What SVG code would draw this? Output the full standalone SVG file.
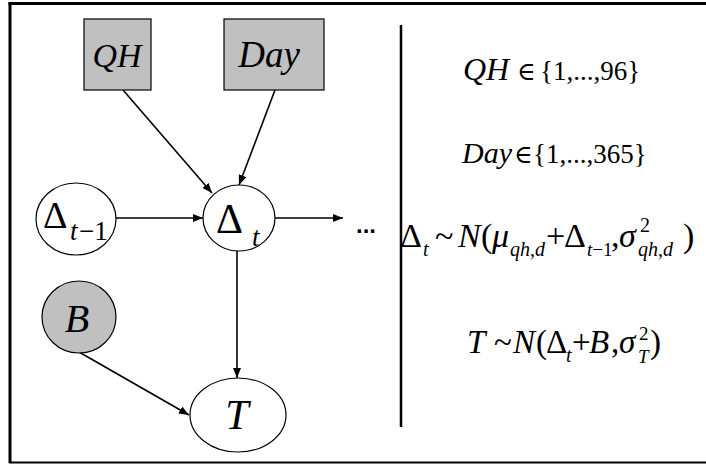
<svg xmlns="http://www.w3.org/2000/svg" width="706" height="466" viewBox="0 0 706 466">
<style>
.shape{stroke:#000;stroke-width:1.2}
.obs{fill:#c0c0c0}
.hid{fill:#fff}
.edge{stroke:#000;stroke-width:1.6;fill:none;marker-end:url(#ah)}
.sf{font-family:"Liberation Serif","Times New Roman","DejaVu Serif",serif;fill:#000}
.i{font-style:italic}
</style>
<defs>
<marker id="ah" viewBox="0 0 10 8" refX="10" refY="4" markerWidth="10" markerHeight="8" markerUnits="userSpaceOnUse" orient="auto">
<path d="M0,0 L10,4 L0,8 Z" fill="#000"/>
</marker>
</defs>
<rect width="706" height="466" fill="#fff"/>
<g id="frame">
<line x1="8.5" y1="3.5" x2="706" y2="3.5" stroke="#000" stroke-width="3"/>
<line x1="10" y1="2" x2="10" y2="463" stroke="#000" stroke-width="3"/>
<line x1="9" y1="462.5" x2="706" y2="462.5" stroke="#000" stroke-width="2"/>
<line x1="401" y1="25" x2="401" y2="427" stroke="#000" stroke-width="2.5"/>
</g>
<g id="connectors">
<line class="edge" x1="123" y1="90" x2="212" y2="193"/>
<line class="edge" x1="275" y1="90" x2="239" y2="185"/>
<line class="edge" x1="116" y1="218" x2="203" y2="218"/>
<line class="edge" x1="275" y1="218" x2="343" y2="218"/>
<line class="edge" x1="237" y1="251" x2="237" y2="378"/>
<line class="edge" x1="79" y1="352" x2="189" y2="415"/>
</g>
<g id="node-qh">
<rect class="shape obs" x="84" y="19" width="67" height="71"/>
<text class="sf i" x="117" y="67" font-size="34" text-anchor="middle">QH</text>
</g>
<g id="node-day">
<rect class="shape obs" x="224" y="19" width="100" height="71"/>
<text class="sf i" x="269" y="67" font-size="37" text-anchor="middle">Day</text>
</g>
<g id="node-delta-prev">
<ellipse class="shape hid" cx="76" cy="219" rx="40" ry="36"/>
<text class="sf" x="43" y="228" font-size="38">Δ<tspan class="i" x="70" y="240" font-size="27">t</tspan><tspan x="79" y="240" font-size="27">−1</tspan></text>
</g>
<g id="node-delta">
<ellipse class="shape hid" cx="239" cy="218" rx="36" ry="33"/>
<text class="sf" x="216" y="233" font-size="42">Δ<tspan class="i" x="252" y="246" font-size="27">t</tspan></text>
</g>
<g id="node-dots">
<text x="356" y="233" font-family="'Liberation Sans', Arial, sans-serif" font-weight="bold" font-size="24">...</text>
</g>
<g id="node-b">
<ellipse class="shape obs" cx="79" cy="317" rx="37" ry="36"/>
<text class="sf i" x="77" y="332" font-size="40" text-anchor="middle">B</text>
</g>
<g id="node-t">
<ellipse class="shape hid" cx="238" cy="415" rx="48" ry="37"/>
<text class="sf i" x="237" y="429" font-size="42" text-anchor="middle">T</text>
</g>
<g id="formulas">
<text class="sf" y="80" font-size="27"><tspan class="i" x="463" font-size="32">QH</tspan><tspan x="517" font-size="25">∈</tspan><tspan x="540">{1,...,96}</tspan></text>
<text class="sf" y="163" font-size="27"><tspan class="i" x="462" font-size="30">Day</tspan><tspan x="514" font-size="25">∈</tspan><tspan x="533">{1,...,365}</tspan></text>
<text class="sf" font-size="34">
<tspan x="400" y="247">Δ</tspan><tspan class="i" x="423" y="256" font-size="20">t</tspan>
<tspan x="435" y="247">~</tspan>
<tspan class="i" x="458" y="247">N</tspan><tspan x="481" y="247">(</tspan>
<tspan class="i" x="492" y="247">μ</tspan><tspan class="i" x="510" y="256" font-size="20">qh,d</tspan>
<tspan x="546" y="247">+</tspan><tspan x="564" y="247">Δ</tspan><tspan class="i" x="587" y="256" font-size="19">t</tspan><tspan font-size="19">−1</tspan><tspan x="611" y="247">,</tspan>
<tspan class="i" x="619" y="247">σ</tspan><tspan x="640" y="232" font-size="20">2</tspan><tspan class="i" x="638" y="256" font-size="20">qh,d</tspan><tspan x="683" y="247">)</tspan>
</text>
<text class="sf" font-size="33">
<tspan class="i" x="467" y="353">T</tspan><tspan x="494" y="353">~</tspan>
<tspan class="i" x="513" y="353">N</tspan><tspan x="536" y="353">(</tspan>
<tspan x="546" y="353">Δ</tspan><tspan class="i" x="566" y="362" font-size="20">t</tspan>
<tspan x="572" y="353">+</tspan><tspan class="i" x="589" y="353">B</tspan><tspan x="611" y="353">,</tspan>
<tspan class="i" x="619" y="353">σ</tspan><tspan x="639" y="340" font-size="19">2</tspan><tspan class="i" x="638" y="363" font-size="19">T</tspan><tspan x="650" y="353">)</tspan>
</text>
</g>
</svg>
